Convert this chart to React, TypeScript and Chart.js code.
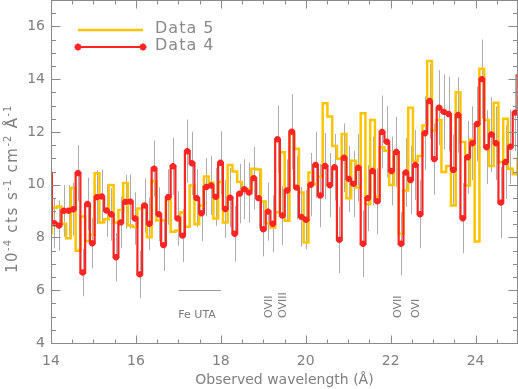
import React, { useEffect, useRef } from 'react';
import { Chart, registerables } from 'chart.js';

Chart.register(...registerables);

// Spectral bin grid (Å): centre of the first bin and bin width
const binStart = 13.965;
const binWidth = 0.1119;

// Data 4 (red, with error bars), units 10^-4 cts s^-1 cm^-2 Å^-1
const data4Values = [
  10.44, 8.54, 8.45, 9.01, 9.01, 9.07, 10.44, 6.67, 9.27, 7.78,
  9.53, 9.55, 9.02, 8.88, 7.25, 8.57, 9.35, 9.36, 8.72, 6.6,
  9.21, 8.52, 10.61, 8.88, 7.71, 9.53, 10.7, 8.72, 8.07, 11.27,
  10.81, 9.49, 8.92, 9.91, 9.97, 9.54, 10.83, 9.08, 9.51, 8.14,
  9.66, 9.83, 9.7, 10.25, 9.49, 8.31, 8.98, 8.52, 11.72, 8.83,
  9.78, 12.01, 9.89, 8.78, 8.67, 10.0, 10.75, 9.59, 10.71, 9.98,
  10.66, 7.91, 11.02, 10.22, 10.03, 10.64, 7.76, 9.49, 10.52, 9.37,
  12.0, 11.63, 10.52, 11.24, 7.76, 10.46, 10.18, 10.75, 8.88, 11.95,
  13.17, 10.97, 12.92, 12.76, 12.68, 10.56, 12.64, 8.73, 11.04, 11.57,
  12.3, 14.0, 11.42, 11.9, 11.57, 9.32, 10.86, 11.44, 12.73, 14.15,
];

// 1-sigma errors of Data 4
const data4Errors = [
  1.05, 0.95, 0.95, 0.98, 0.98, 1.0, 1.06, 0.9, 1.0, 0.95,
  1.02, 1.02, 1.0, 1.0, 0.92, 0.98, 1.02, 1.02, 1.0, 0.9,
  1.03, 1.0, 1.06, 1.02, 0.98, 1.05, 1.08, 1.03, 1.0, 1.2,
  1.2, 1.1, 1.06, 1.1, 1.12, 1.1, 1.2, 1.1, 1.12, 1.05,
  1.13, 1.14, 1.14, 1.18, 1.13, 1.03, 1.1, 1.08, 1.28, 1.12,
  1.18, 1.42, 1.2, 1.12, 1.12, 1.2, 1.25, 1.2, 1.25, 1.22,
  1.26, 1.26, 1.3, 1.25, 1.25, 1.28, 1.26, 1.25, 1.3, 1.25,
  1.38, 1.35, 1.3, 1.33, 1.2, 1.3, 1.3, 1.33, 1.29, 1.4,
  1.42, 1.35, 1.42, 1.42, 1.42, 1.35, 1.43, 1.33, 1.38, 1.4,
  1.42, 1.5, 1.4, 1.42, 1.4, 1.35, 1.4, 1.42, 1.45, 1.5,
];

// Data 5 (yellow histogram)
const data5Values = [
  8.16, 9.13, 9.17, 8.52, 7.97, 9.87, 7.5, 8.79, 7.87, 8.1,
  10.43, 8.57, 8.69, 9.99, 8.57, 9.04, 10.06, 8.45, 8.4, 9.1,
  9.21, 8.01, 10.14, 8.64, 8.64, 9.42, 8.22, 8.26, 8.95, 8.41,
  9.97, 8.5, 9.21, 10.31, 10.08, 8.72, 10.1, 8.57, 10.75, 10.5,
  10.1, 9.8, 9.85, 10.6, 10.58, 9.36, 8.54, 8.38, 8.96, 11.23,
  8.63, 11.92, 11.36, 9.7, 7.81, 10.46, 10.03, 10.3, 13.09, 12.58,
  11.47, 10.98, 11.92, 9.49, 10.91, 9.89, 12.71, 9.26, 12.45, 9.55,
  11.42, 11.29, 9.99, 11.19, 8.14, 9.78, 12.92, 10.91, 11.09, 12.24,
  14.69, 12.05, 12.45, 10.48, 10.71, 9.21, 13.5, 11.62, 9.97, 11.7,
  7.85, 14.39, 12.45, 10.71, 13.11, 10.85, 12.5, 10.6, 10.4, 11.0,
];

// Line identifications (observed wavelength, Å)
const lineNames = ['OVII', 'OVIII', 'OVII', 'OVI'];
const lineWavelengths = [19.13, 19.46, 22.18, 22.59];
// Fe UTA band
const feUtaLabel = 'Fe UTA';
const feUtaRange = [17.0, 18.0];
const feUtaLevel = 6.0;
const labelLevel = 4.95;

const xTickValues = [14, 16, 18, 20, 22, 24];
const yTickValues = [4, 6, 8, 10, 12, 14, 16];
const seriesNames = ['Data 5', 'Data 4'];
const xTitle = 'Observed wavelength (Å)';
// y title pieces: [text, isSuperscript]
const yTitleParts: [string, boolean][] = [
  ['10', false], ['-4', true], [' cts s', false], ['-1', true],
  [' cm', false], ['-2', true], [' Å', false], ['-1', true],
];

const wavelengths = data4Values.map((_, i) => binStart + i * binWidth);

const YELLOW = '#ffc400';
const RED = '#ff2424';
const AXIS = '#8a8a8a';
const TEXT = '#808080';
const FONT = '"DejaVu Sans", sans-serif';

function drawStar(ctx: CanvasRenderingContext2D, cx: number, cy: number, r: number) {
  ctx.beginPath();
  for (let k = 0; k < 4; k++) {
    const ang = (k * Math.PI) / 4;
    const dx = Math.cos(ang) * r;
    const dy = Math.sin(ang) * r;
    ctx.moveTo(cx - dx, cy - dy);
    ctx.lineTo(cx + dx, cy + dy);
  }
  ctx.stroke();
}

const decorPlugin = {
  id: 'decor',
  beforeDatasetsDraw(chart: any) {
    const { ctx, chartArea: a, scales } = chart;
    const x = scales.x;
    const y = scales.y;
    ctx.save();
    ctx.beginPath();
    ctx.rect(a.left, a.top, a.right - a.left, a.bottom - a.top);
    ctx.clip();
    ctx.strokeStyle = '#adadad';
    ctx.lineWidth = 1;
    ctx.beginPath();
    wavelengths.forEach((w, i) => {
      const px = Math.round(x.getPixelForValue(w)) + 0.5;
      ctx.moveTo(px, y.getPixelForValue(data4Values[i] - data4Errors[i]));
      ctx.lineTo(px, y.getPixelForValue(data4Values[i] + data4Errors[i]));
    });
    ctx.stroke();
    ctx.restore();
  },
  afterDatasetsDraw(chart: any) {
    const { ctx, chartArea: a, scales } = chart;
    const x = scales.x;
    const y = scales.y;
    ctx.save();
    // frame
    ctx.strokeStyle = AXIS;
    ctx.lineWidth = 1;
    const L = Math.round(a.left) + 0.5;
    const R = Math.round(a.right) - 0.5;
    const T = Math.round(a.top) + 0.5;
    const B = Math.round(a.bottom) + 0.5;
    ctx.strokeRect(L, T, R - L, B - T);
    // inward ticks
    ctx.beginPath();
    for (let v = x.min; v <= x.max + 1e-6; v += 0.5) {
      const px = Math.round(x.getPixelForValue(v)) + 0.5;
      const len = xTickValues.includes(v) ? 8 : 4;
      ctx.moveTo(px, B);
      ctx.lineTo(px, B - len);
      ctx.moveTo(px, T);
      ctx.lineTo(px, T + len);
    }
    for (let v = y.min; v <= y.max + 1e-6; v += 0.5) {
      const py = Math.round(y.getPixelForValue(v)) + 0.5;
      const len = yTickValues.includes(v) ? 9 : 4.5;
      ctx.moveTo(L, py);
      ctx.lineTo(L + len, py);
      ctx.moveTo(R, py);
      ctx.lineTo(R - len, py);
    }
    ctx.stroke();

    // Fe UTA band
    ctx.strokeStyle = '#999999';
    ctx.beginPath();
    const fy = Math.round(y.getPixelForValue(feUtaLevel)) + 0.5;
    ctx.moveTo(x.getPixelForValue(feUtaRange[0]), fy);
    ctx.lineTo(x.getPixelForValue(feUtaRange[1]), fy);
    ctx.stroke();
    ctx.fillStyle = '#7a7a7a';
    ctx.font = '11px ' + FONT;
    ctx.textAlign = 'left';
    ctx.textBaseline = 'alphabetic';
    ctx.fillText(feUtaLabel, x.getPixelForValue(feUtaRange[0]), y.getPixelForValue(labelLevel));

    // vertical line labels
    lineNames.forEach((name, i) => {
      ctx.save();
      ctx.translate(x.getPixelForValue(lineWavelengths[i]), y.getPixelForValue(labelLevel));
      ctx.rotate(-Math.PI / 2);
      ctx.textAlign = 'left';
      ctx.textBaseline = 'middle';
      ctx.fillText(name, 0, 0);
      ctx.restore();
    });

    // legend
    const lx0 = a.left + 27;
    const lx1 = a.left + 92;
    const tx = a.left + 104;
    ctx.lineWidth = 2.5;
    ctx.strokeStyle = YELLOW;
    ctx.beginPath();
    ctx.moveTo(lx0, a.top + 30);
    ctx.lineTo(lx1, a.top + 30);
    ctx.stroke();
    ctx.strokeStyle = RED;
    ctx.lineWidth = 2;
    ctx.beginPath();
    ctx.moveTo(lx0, a.top + 47);
    ctx.lineTo(lx1, a.top + 47);
    ctx.stroke();
    drawStar(ctx, lx0, a.top + 47, 3.5);
    drawStar(ctx, lx1, a.top + 47, 3.5);
    ctx.fillStyle = '#8a8a8a';
    ctx.font = '16px ' + FONT;
    (ctx as any).letterSpacing = '1px';
    ctx.textAlign = 'left';
    ctx.textBaseline = 'middle';
    ctx.fillText(seriesNames[0], tx, a.top + 29);
    ctx.fillText(seriesNames[1], tx, a.top + 46);

    // y-axis title with superscripts, rotated
    ctx.save();
    ctx.translate(17, a.bottom - 70);
    ctx.rotate(-Math.PI / 2);
    ctx.fillStyle = TEXT;
    ctx.textAlign = 'left';
    ctx.textBaseline = 'alphabetic';
    let cx = 0;
    yTitleParts.forEach(([txt, sup]) => {
      if (sup) {
        ctx.font = '10px ' + FONT;
        (ctx as any).letterSpacing = '1px';
        ctx.fillText(txt, cx, -6.5);
      } else {
        ctx.font = '15px ' + FONT;
        (ctx as any).letterSpacing = '1.5px';
        ctx.fillText(txt, cx, 0);
      }
      cx += ctx.measureText(txt).width;
    });
    ctx.restore();
    ctx.restore();
  },
};

export default function App() {
  const ref = useRef<HTMLCanvasElement>(null);
  useEffect(() => {
    const chart = new Chart(ref.current as HTMLCanvasElement, {
      type: 'line',
      data: {
        datasets: [
          {
            label: seriesNames[1],
            data: wavelengths.map((w, i) => ({ x: w, y: data4Values[i] })),
            borderColor: RED,
            backgroundColor: RED,
            borderWidth: 2.2,
            stepped: 'middle',
            pointStyle: 'star',
            pointRadius: 3.2,
            pointBorderWidth: 2,
            pointBorderColor: RED,
            pointBackgroundColor: RED,
            clip: 0,
            order: 1,
          },
          {
            label: seriesNames[0],
            data: wavelengths.map((w, i) => ({ x: w, y: data5Values[i] })),
            borderColor: YELLOW,
            backgroundColor: YELLOW,
            borderWidth: 2.5,
            stepped: 'middle',
            pointRadius: 0,
            clip: 0,
            order: 2,
          },
        ],
      },
      options: {
        animation: false,
        responsive: false,
        devicePixelRatio: 1,
        layout: { padding: 0, autoPadding: false },
        plugins: {
          legend: { display: false },
          tooltip: { enabled: false },
        },
        events: [],
        scales: {
          x: {
            type: 'linear',
            min: 14,
            max: 25,
            afterFit: (s: any) => {
              s.height = 46;
              s.paddingLeft = 0;
              s.paddingRight = 0;
            },
            afterBuildTicks: (s: any) => {
              s.ticks = xTickValues.map((v) => ({ value: v }));
            },
            grid: { display: false, drawTicks: false },
            border: { display: false },
            ticks: {
              color: TEXT,
              font: { family: FONT, size: 14 },
              padding: 10,
              maxRotation: 0,
              autoSkip: false,
            },
            title: {
              display: true,
              text: xTitle,
              color: TEXT,
              font: { family: FONT, size: 14 },
              padding: { top: 0, bottom: 0 },
            },
          },
          y: {
            type: 'linear',
            min: 4,
            max: 17,
            afterFit: (s: any) => {
              s.width = 51;
              s.paddingTop = 0;
              s.paddingBottom = 0;
            },
            afterBuildTicks: (s: any) => {
              s.ticks = yTickValues.map((v) => ({ value: v }));
            },
            grid: { display: false, drawTicks: false },
            border: { display: false },
            ticks: {
              color: TEXT,
              font: { family: FONT, size: 14 },
              padding: 6,
            },
            title: { display: false },
          },
        },
      },
      plugins: [decorPlugin],
    } as any);
    return () => chart.destroy();
  }, []);
  return (
    <div style={{ position: 'fixed', left: 0, top: 0, width: 518, height: 389, background: '#fff' }}>
      <canvas ref={ref} width={518} height={389} style={{ display: 'block', width: 518, height: 389 }} />
    </div>
  );
}
